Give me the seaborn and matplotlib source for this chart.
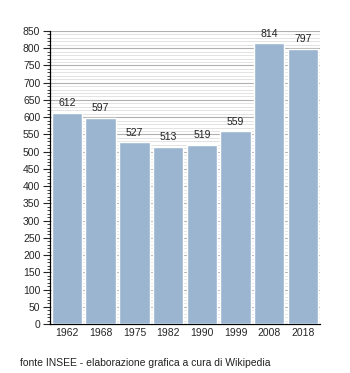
import matplotlib
matplotlib.use("Agg")
import matplotlib.pyplot as plt
import seaborn as sns
import pandas as pd
from matplotlib.ticker import MultipleLocator

years = ["1962", "1968", "1975", "1982", "1990", "1999", "2008", "2018"]
population = [612, 597, 527, 513, 519, 559, 814, 797]

df = pd.DataFrame({"anno": years, "abitanti": population})

sns.set_style("white")
plt.rcParams["font.family"] = ["Liberation Sans", "DejaVu Sans"]

fig = plt.figure(figsize=(3.5, 3.73), dpi=100)
ax = fig.add_axes([0.143, 0.131, 0.771, 0.786])

sns.barplot(data=df, x="anno", y="abitanti", color="#9bb4cf", saturation=1,
            width=0.9, ax=ax, zorder=3)

ax.set_ylim(0, 850)
ax.set_xlim(-0.5, len(years) - 0.5)
ax.yaxis.set_major_locator(MultipleLocator(50))
ax.yaxis.set_minor_locator(MultipleLocator(10))
ax.grid(axis="y", which="major", color="#b0b0b0", linewidth=0.8, zorder=0)
ax.grid(axis="y", which="minor", color="#dedede", linewidth=0.6, zorder=0)
ax.set_axisbelow(True)

for s in ["top", "right"]:
    ax.spines[s].set_visible(False)
for s in ["left", "bottom"]:
    ax.spines[s].set_color("black")
    ax.spines[s].set_linewidth(0.9)

ax.tick_params(axis="y", which="major", direction="out", length=5, width=0.8,
               labelsize=7.5, left=True, pad=2)
ax.tick_params(axis="y", which="minor", direction="out", length=2.5, width=0.6, left=True)
ax.tick_params(axis="x", length=0, labelsize=7.5, pad=3)
ax.set_xlabel("")
ax.set_ylabel("")

for i, v in enumerate(population):
    ax.text(i, v + 14, str(v), ha="center", va="bottom", fontsize=7.5, color="#222222")

fig.text(0.057, 0.027, "fonte INSEE - elaborazione grafica a cura di Wikipedia",
         fontsize=7.5, ha="left", va="center", color="#222222")

fig.savefig("out.png", dpi=100)
